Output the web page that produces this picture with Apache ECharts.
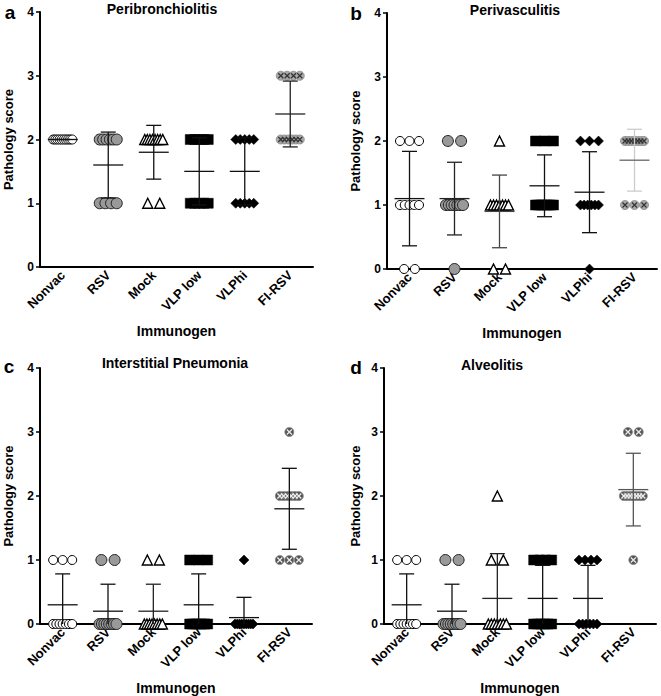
<!DOCTYPE html>
<html>
<head>
<meta charset="utf-8">
<script src="https://cdn.jsdelivr.net/npm/echarts@6/dist/echarts.min.js"></script>
<style>
  html, body { margin: 0; padding: 0; background: #fff; }
  #chart { width: 661px; height: 696px; }
</style>
</head>
<body>
<div id="chart"></div>
<script>
const groups = ['Nonvac', 'RSV', 'Mock', 'VLP low', 'VLPhi', 'FI-RSV'];
const yTicks = [0, 1, 2, 3, 4];
const titles = ['Peribronchiolitis', 'Perivasculitis', 'Interstitial Pneumonia', 'Alveolitis'];
const letters = ['a', 'b', 'c', 'd'];

// pathology score of each animal, one list per immunogen group
const peribronchiolitis = [
  [2, 2, 2, 2, 2, 2, 2, 2, 2, 2],
  [2, 2, 2, 2, 2, 2, 1, 1, 1, 1],
  [2, 2, 2, 2, 2, 2, 2, 2, 1, 1],
  [2, 2, 2, 2, 2, 1, 1, 1, 1, 1],
  [2, 2, 2, 2, 2, 1, 1, 1, 1, 1],
  [3, 3, 3, 3, 2, 2, 2, 2, 2, 2]
];
const perivasculitis = [
  [2, 2, 2, 1, 1, 1, 1, 1, 0, 0],
  [2, 2, 1, 1, 1, 1, 1, 1, 1, 0],
  [2, 1, 1, 1, 1, 1, 1, 1, 0, 0],
  [2, 2, 2, 1, 1, 1, 1, 1, 1, 1],
  [2, 2, 2, 1, 1, 1, 1, 1, 1, 0],
  [2, 2, 2, 2, 2, 2, 2, 1, 1, 1]
];
const interstitialPneumonia = [
  [1, 1, 1, 0, 0, 0, 0, 0, 0, 0],
  [1, 1, 0, 0, 0, 0, 0, 0, 0, 0],
  [1, 1, 0, 0, 0, 0, 0, 0, 0, 0],
  [1, 1, 1, 0, 0, 0, 0, 0, 0, 0],
  [1, 0, 0, 0, 0, 0, 0, 0, 0, 0],
  [3, 2, 2, 2, 2, 2, 2, 1, 1, 1]
];
const alveolitis = [
  [1, 1, 1, 0, 0, 0, 0, 0, 0, 0],
  [1, 1, 0, 0, 0, 0, 0, 0, 0, 0],
  [2, 1, 1, 0, 0, 0, 0, 0, 0, 0],
  [1, 1, 1, 1, 0, 0, 0, 0, 0, 0],
  [1, 1, 1, 1, 0, 0, 0, 0, 0, 0],
  [3, 3, 2, 2, 2, 2, 2, 2, 2, 1]
];
const panels = [peribronchiolitis, perivasculitis, interstitialPneumonia, alveolitis];

// layout / style
const FONT = '"Liberation Sans", Arial, sans-serif';
const grids = [
  { left: 40, top: 12, width: 273, height: 255 },
  { left: 387, top: 13, width: 270, height: 256 },
  { left: 40, top: 368, width: 272, height: 256 },
  { left: 384, top: 368, width: 272, height: 256 }
];
const titlePos = [[162, 9], [515, 10], [175, 363], [492, 365]];
const letterPos = [[10, 12], [356, 13], [9, 366], [356, 367]];
const markers = [
  { symbol: 'circle', size: 9, fill: '#fff', border: '#000', bw: 1 },
  { symbol: 'circle', size: 11, fill: '#999', border: '#222', bw: 1 },
  { symbol: 'triangle', size: 10, fill: '#fff', border: '#000', bw: 1.4 },
  { symbol: 'rect', size: 10, fill: '#000', border: '#000', bw: 0.5 },
  { symbol: 'diamond', size: 10, fill: '#000', border: '#000', bw: 0.5 },
  { symbol: 'circle', size: 9, fill: '#aaa', border: '#888', bw: 0.8 }
];
const crossFill = [['#aaa', '#333'], ['#aaa', '#333'], ['#555', '#eee'], ['#555', '#eee']];
const sdColors = [
  ['#111', '#111', '#111', '#111', '#111', '#222'],
  ['#111', '#222', '#444', '#111', '#111', '#ccc'],
  ['#111', '#111', '#222', '#111', '#111', '#111'],
  ['#111', '#111', '#222', '#111', '#111', '#555']
];
const meanColors = [
  ['#111', '#111', '#111', '#111', '#111', '#222'],
  ['#111', '#222', '#444', '#111', '#111', '#666'],
  ['#111', '#111', '#222', '#111', '#111', '#111'],
  ['#111', '#111', '#222', '#111', '#111', '#555']
];

function stats(v) {
  const m = v.reduce((a, b) => a + b, 0) / v.length;
  const sd = Math.sqrt(v.reduce((a, b) => a + (b - m) * (b - m), 0) / (v.length - 1));
  return [m, sd];
}

// horizontal spread of tied points (pixels), like a column scatter
function spread(scores, d) {
  const count = {}, seen = {};
  scores.forEach(s => count[s] = (count[s] || 0) + 1);
  return scores.map(s => {
    const n = count[s];
    const i = seen[s] = (seen[s] === undefined ? 0 : seen[s] + 1);
    const step = n > 1 ? Math.min(d * 1.2, (28 - d) / (n - 1)) : 0;
    return (i - (n - 1) / 2) * step;
  });
}

const xAxes = [], yAxes = [], series = [], graphics = [];

panels.forEach((panel, p) => {
  xAxes.push({
    type: 'category', gridIndex: p, data: groups, boundaryGap: true,
    axisLine: { lineStyle: { color: '#000', width: 2 } },
    axisTick: { alignWithLabel: true, length: 5, lineStyle: { color: '#000', width: 1.5 } },
    axisLabel: { rotate: 45, interval: 0, margin: 6, color: '#000', fontSize: 13, fontWeight: 'bold', fontFamily: FONT },
    name: 'Immunogen', nameLocation: 'middle', nameGap: 57,
    nameTextStyle: { color: '#000', fontSize: 14, fontWeight: 'bold', fontFamily: FONT }
  });
  yAxes.push({
    type: 'value', gridIndex: p, min: yTicks[0], max: yTicks[yTicks.length - 1],
    interval: yTicks[1] - yTicks[0],
    axisLine: { show: true, lineStyle: { color: '#000', width: 2 } },
    axisTick: { show: true, length: 4, lineStyle: { color: '#000', width: 1.5 } },
    splitLine: { show: false },
    axisLabel: { margin: 6, color: '#000', fontSize: 12, fontWeight: 'bold', fontFamily: FONT },
    name: 'Pathology score', nameLocation: 'middle', nameGap: p === 3 ? 22 : 25,
    nameTextStyle: { color: '#000', fontSize: 13, fontWeight: 'bold', fontFamily: FONT }
  });

  panel.forEach((scores, g) => {
    const mk = markers[g];
    const off = spread(scores, mk.size);
    const data = scores.map((s, k) => ({ value: [g, s], symbolOffset: [off[k], 0] }));
    const fill = g === 5 ? crossFill[p][0] : mk.fill;
    series.push({
      type: 'scatter', xAxisIndex: p, yAxisIndex: p, data: data,
      symbol: mk.symbol, symbolSize: mk.size, clip: false, silent: true, z: 2,
      itemStyle: { color: fill, borderColor: mk.border, borderWidth: mk.bw, opacity: 1 }
    });
    if (g === 5) {
      series.push({
        type: 'scatter', xAxisIndex: p, yAxisIndex: p, data: data,
        symbol: 'path://M0 0L10 10M10 0L0 10', symbolSize: 5, clip: false, silent: true, z: 2,
        itemStyle: { color: 'transparent', borderColor: crossFill[p][1], borderWidth: 1.2, opacity: 1 }
      });
    }
  });

  // mean +/- SD
  series.push({
    type: 'custom', xAxisIndex: p, yAxisIndex: p, z: 3, silent: true,
    data: panel.map((scores, g) => [g].concat(stats(scores))),
    renderItem: function (params, api) {
      const g = api.value(0), m = api.value(1), s = api.value(2);
      const c = api.coord([g, m]);
      const hi = api.coord([g, m + s]);
      const lo = api.coord([g, Math.max(m - s, 0)]);
      const sdStyle = { stroke: sdColors[p][g], lineWidth: 1.3 };
      const kids = [
        { type: 'line', shape: { x1: c[0], y1: hi[1], x2: c[0], y2: lo[1] }, style: sdStyle },
        { type: 'line', shape: { x1: c[0] - 7.5, y1: hi[1], x2: c[0] + 7.5, y2: hi[1] }, style: sdStyle },
        { type: 'line', shape: { x1: c[0] - 15, y1: c[1], x2: c[0] + 15, y2: c[1] },
          style: { stroke: meanColors[p][g], lineWidth: 1.3 } }
      ];
      if (m - s >= 0) {
        kids.push({ type: 'line', shape: { x1: c[0] - 7.5, y1: lo[1], x2: c[0] + 7.5, y2: lo[1] }, style: sdStyle });
      }
      return { type: 'group', children: kids };
    }
  });

  graphics.push({
    type: 'text', x: titlePos[p][0], y: titlePos[p][1],
    style: { text: titles[p], fill: '#000', fontSize: 14, fontWeight: 'bold', fontFamily: FONT, align: 'center', verticalAlign: 'middle' }
  });
  graphics.push({
    type: 'text', x: letterPos[p][0], y: letterPos[p][1],
    style: { text: letters[p], fill: '#000', fontSize: 19, fontWeight: 'bold', fontFamily: FONT, align: 'center', verticalAlign: 'middle' }
  });
});

const chart = echarts.init(document.getElementById('chart'), null, { renderer: 'svg' });
chart.setOption({
  animation: false,
  backgroundColor: '#fff',
  grid: grids,
  xAxis: xAxes,
  yAxis: yAxes,
  series: series,
  graphic: graphics
});
</script>
</body>
</html>
